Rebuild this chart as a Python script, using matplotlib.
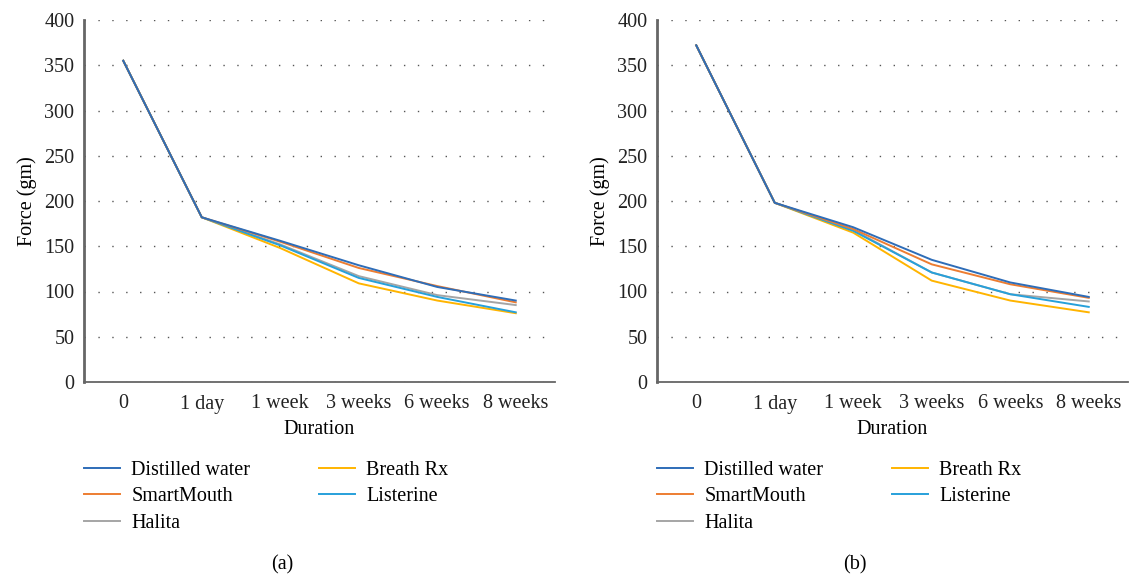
import matplotlib.pyplot as plt
import numpy as np

durations = ['0', '1 day', '1 week', '3 weeks', '6 weeks', '8 weeks']
series_names = ['Distilled water', 'SmartMouth', 'Halita', 'Breath Rx', 'Listerine']
colors = ['#2E6DB8', '#ED7D31', '#A5A5A5', '#FFB400', '#27A0DA']

# panel (a)
a_distilled = [355, 182, 156, 129, 105, 90]
a_smartmouth = [355, 182, 155, 126, 106, 88]
a_halita = [355, 182, 152, 117, 96, 85]
a_breathrx = [355, 182, 148, 109, 90, 76]
a_listerine = [355, 182, 151, 115, 94, 77]

# panel (b)
b_distilled = [372, 198, 171, 135, 110, 94]
b_smartmouth = [372, 198, 169, 130, 108, 93]
b_halita = [372, 198, 168, 121, 97, 89]
b_breathrx = [372, 198, 165, 112, 90, 77]
b_listerine = [372, 198, 167, 121, 97, 83]

panels = [
    ('(a)', [a_distilled, a_smartmouth, a_halita, a_breathrx, a_listerine]),
    ('(b)', [b_distilled, b_smartmouth, b_halita, b_breathrx, b_listerine]),
]

fs = 14.5
plt.rcParams['font.family'] = ['Liberation Serif', 'DejaVu Serif']
plt.rcParams['font.size'] = fs

fig = plt.figure(figsize=(11.3, 5.79), dpi=100)
lefts = [84/1130, 657/1130]
x = np.arange(len(durations))

for (tag, data), left in zip(panels, lefts):
    ax = fig.add_axes([left, 197/579, 471/1130, 362/579])
    # draw order so blue ends up on top like the reference
    for i in [2, 3, 4, 1, 0]:
        ax.plot(x, data[i], color=colors[i], lw=1.4, label=series_names[i])
    ax.set_xlim(-0.5, 5.5)
    ax.set_ylim(0, 400)
    ax.set_yticks(np.arange(0, 401, 50))
    ax.set_xticks(x)
    ax.set_xticklabels(durations)
    ax.tick_params(axis='y', length=0, labelsize=fs, colors='#222222', pad=7)
    ax.tick_params(axis='x', length=0, labelsize=fs, colors='#222222', pad=9)
    ax.grid(axis='y', linestyle=(0, (1, 9)), color='#555555', lw=1)
    ax.set_axisbelow(True)
    for s in ['top', 'right']:
        ax.spines[s].set_visible(False)
    ax.spines['left'].set_color('#666666')
    ax.spines['left'].set_linewidth(2)
    ax.spines['bottom'].set_color('#666666')
    ax.spines['bottom'].set_linewidth(1.3)
    ax.set_xlabel('Duration', fontsize=fs, labelpad=5)
    ax.set_ylabel('Force (gm)', fontsize=fs, labelpad=5)
    handles, labels = ax.get_legend_handles_labels()
    order = [labels.index(n) for n in series_names]
    ax.legend([handles[k] for k in order], series_names, ncol=2,
              loc='upper left', bbox_to_anchor=(0.0, -0.218), frameon=False,
              borderpad=0, borderaxespad=0,
              fontsize=fs, handlelength=1.8, handletextpad=0.55,
              columnspacing=3.4, labelspacing=0.36)
    ax.text(0.42, -0.505, tag, transform=ax.transAxes, ha='center', va='center', fontsize=fs)

fig.savefig('out.png', dpi=100)
